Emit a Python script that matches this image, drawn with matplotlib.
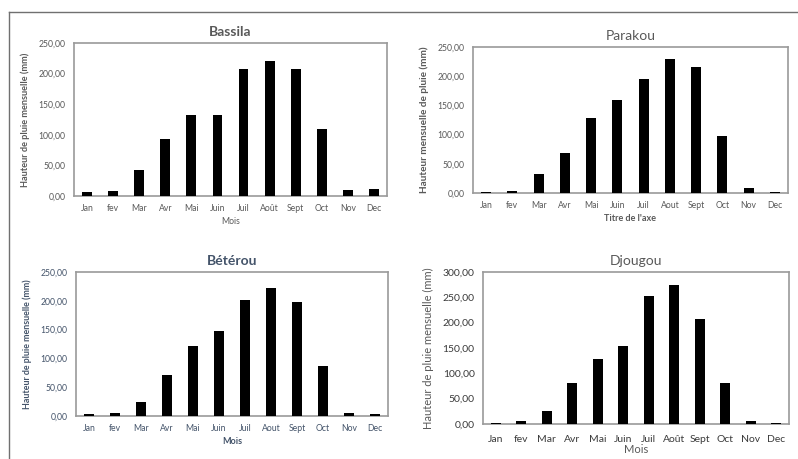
import numpy as np
import matplotlib
matplotlib.use('Agg')
from matplotlib import pyplot as plt
from matplotlib.lines import Line2D
from matplotlib.ticker import FuncFormatter

plt.rcParams['font.family'] = ['Lato', 'DejaVu Sans']

mois_a = ['Jan', 'fev', 'Mar', 'Avr', 'Mai', 'Juin', 'Juil', 'Août', 'Sept', 'Oct', 'Nov', 'Dec']
mois_b = ['Jan', 'fev', 'Mar', 'Avr', 'Mai', 'Juin', 'Juil', 'Aout', 'Sept', 'Oct', 'Nov', 'Dec']

bassila = [6, 8, 42, 93, 132, 133, 207, 221, 207, 110, 10, 12]
parakou = [2, 4, 32, 68, 129, 159, 195, 230, 215, 97, 8.5, 2]
beterou = [3, 5, 25, 72, 122, 147, 201, 222, 198, 86, 5, 3.5]
djougou = [2, 5, 25, 81, 129, 154, 253, 275, 208, 80, 5, 2]

ylab = 'Hauteur de pluie mensuelle (mm)'
gray = '#595959'
blue = '#44546A'

fig = plt.figure(figsize=(7.98, 4.59), dpi=100)
W, H = 798, 459

def box(l, t, r, b):
    return [l / W, 1 - b / H, (r - l) / W, (b - t) / H]

fmt = FuncFormatter(lambda v, p: f'{v:.2f}'.replace('.', ','))

charts = [
    # title, months, values, box, ymax, ylabel, xlabel, colour, tick size, tick pad,
    # ylabel size/weight, xlabel size/weight/pad, title weight
    ('Bassila', mois_a, bassila, (74, 43, 387, 196), 250, ylab, 'Mois',
     gray, 6.2, 6, 6.6, 'bold', 6.2, 'normal', 3, 'bold'),
    ('Parakou', mois_b, parakou, (473, 47, 788, 193), 250, 'Hauteur mensuelle de pluie (mm)', "Titre de l'axe",
     gray, 6.2, 6, 7.2, 'bold', 6.5, 'bold', 3, 'normal'),
    ('Bétérou', mois_b, beterou, (76, 272, 388, 416), 250, ylab, 'Mois',
     blue, 6.2, 6, 6.4, 'bold', 6.5, 'bold', 3, 'bold'),
    ('Djougou', mois_a, djougou, (483, 272, 789, 424), 300, ylab, 'Mois',
     '#3a3a3a', 7.5, 8, 8, 'normal', 8, 'normal', 0, 'normal'),
]

for title, months, vals, b, ymax, yl, xl, col, fs, pad, yfs, yfw, xfs, xfw, xpad, tfw in charts:
    ax = fig.add_axes(box(*b))
    x = np.arange(len(months))
    ax.bar(x, vals, width=0.38, color='black', zorder=3)
    ax.set_xlim(-0.5, len(months) - 0.5)
    ax.set_ylim(0, ymax)
    ax.set_yticks(np.arange(0, ymax + 1, 50))
    ax.yaxis.set_major_formatter(fmt)
    ax.set_xticks(x)
    ax.set_xticklabels(months)
    ax.tick_params(axis='x', length=0, labelsize=fs, colors=col, pad=pad)
    ax.tick_params(axis='y', length=0, labelsize=fs, colors=col, pad=6)
    for s in ax.spines.values():
        s.set_color('#9a9a9a')
        s.set_linewidth(1.2)
    tcol = gray if title == 'Djougou' else col
    ax.set_title(title, fontsize=10, color=tcol, pad=5, fontweight=tfw)
    ax.set_ylabel(yl, fontsize=yfs, color=gray if title != 'Bétérou' else blue, fontweight=yfw, labelpad=6)
    ax.set_xlabel(xl, fontsize=xfs, color=tcol, fontweight=xfw, labelpad=xpad)

# outer frame lines
fig.add_artist(Line2D([9 / W, 1], [1 - 12 / H, 1 - 12 / H], color='#707070', lw=1))
fig.add_artist(Line2D([9 / W, 9 / W], [1 - 12 / H, 0], color='#707070', lw=1))

fig.savefig('out.png', dpi=100)
